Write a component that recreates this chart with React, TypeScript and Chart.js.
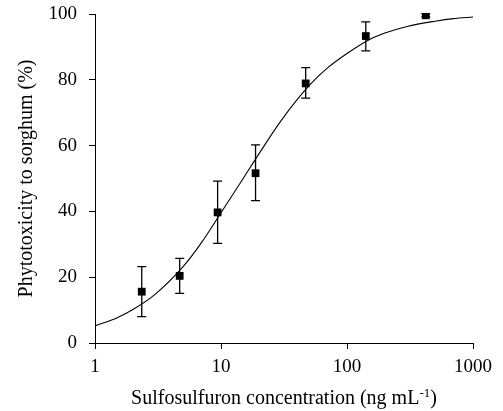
import { useEffect, useRef } from "react";
import { Chart, registerables } from "chart.js";

Chart.register(...registerables);

// Measured data (concentration in ng mL-1, phytotoxicity in %)
const concentrations = [2.35, 4.7, 9.4, 18.8, 47, 141, 422];
const phytotoxicity = [15.6, 20.4, 39.7, 51.6, 78.9, 93.3, 99.6];
const errorHigh = [23.2, 25.7, 49.2, 60.2, 83.7, 97.6, 100.1];
const errorLow = [8.0, 15.1, 30.3, 43.3, 74.4, 88.8, 99.1];

// Fitted dose-response curve
const curveX = [1, 1.5, 2, 3, 5, 7, 10, 15, 20, 30, 50, 70, 100, 150, 200, 300, 500, 700, 1000];
const curveY = [5.2, 7.7, 10.2, 14.8, 23.2, 30.5, 39.6, 50.0, 57.5, 67.6, 78.2, 83.6, 88.0, 92.2, 94.2, 96.2, 97.8, 98.6, 99.1];

const xTicks = [1, 10, 100, 1000];
const yTicks = [0, 20, 40, 60, 80, 100];

const xTitleMain = "Sulfosulfuron concentration (ng mL";
const xTitleSup = "-1";
const xTitleEnd = ")";
const yTitle = "Phytotoxicity to sorghum (%)";

const FONT = '"Liberation Serif", "Times New Roman", serif';

const errorBarPlugin = {
  id: "errorBars",
  afterDatasetsDraw(chart: any) {
    const { ctx, scales } = chart;
    const x = scales.x;
    const y = scales.y;
    ctx.save();
    ctx.strokeStyle = "#000";
    ctx.lineWidth = 1.3;
    concentrations.forEach((c, i) => {
      const px = x.getPixelForValue(c);
      const top = y.getPixelForValue(errorHigh[i]);
      const bot = y.getPixelForValue(errorLow[i]);
      ctx.beginPath();
      ctx.moveTo(px, top);
      ctx.lineTo(px, bot);
      ctx.moveTo(px - 4.5, top);
      ctx.lineTo(px + 4.5, top);
      ctx.moveTo(px - 4.5, bot);
      ctx.lineTo(px + 4.5, bot);
      ctx.stroke();
    });
    ctx.restore();
  },
};

const titlesPlugin = {
  id: "axisTitles",
  afterDraw(chart: any) {
    const { ctx, chartArea } = chart;
    ctx.save();
    ctx.fillStyle = "#000";
    const mainFont = `20px ${FONT}`;
    const supFont = `13px ${FONT}`;
    ctx.font = mainFont;
    const w1 = ctx.measureText(xTitleMain).width;
    const w3 = ctx.measureText(xTitleEnd).width;
    ctx.font = supFont;
    const w2 = ctx.measureText(xTitleSup).width;
    const total = w1 + w2 + w3;
    const cx = (chartArea.left + chartArea.right) / 2;
    let sx = cx - total / 2;
    const baseY = 404;
    ctx.textBaseline = "alphabetic";
    ctx.textAlign = "left";
    ctx.font = mainFont;
    ctx.fillText(xTitleMain, sx, baseY);
    sx += w1;
    ctx.font = supFont;
    ctx.fillText(xTitleSup, sx, baseY - 7);
    sx += w2;
    ctx.font = mainFont;
    ctx.fillText(xTitleEnd, sx, baseY);

    const cy = (chartArea.top + chartArea.bottom) / 2;
    ctx.translate(32, cy);
    ctx.rotate(-Math.PI / 2);
    ctx.textAlign = "center";
    ctx.textBaseline = "alphabetic";
    ctx.font = mainFont;
    ctx.fillText(yTitle, 0, 0);
    ctx.restore();
  },
};

export default function App() {
  const canvasRef = useRef<HTMLCanvasElement | null>(null);

  useEffect(() => {
    document.body.style.margin = "0";
    const canvas = canvasRef.current;
    if (!canvas) return;
    const chart = new Chart(canvas, {
      type: "scatter",
      data: {
        datasets: [
          {
            type: "scatter",
            label: "Observed",
            data: concentrations.map((c, i) => ({ x: c, y: phytotoxicity[i] })),
            pointStyle: "rect",
            pointRadius: 5.5,
            pointHoverRadius: 5.5,
            backgroundColor: "#000",
            borderColor: "#000",
            borderWidth: 0,
            order: 0,
          },
          {
            type: "line",
            label: "Fit",
            data: curveX.map((c, i) => ({ x: c, y: curveY[i] })),
            borderColor: "#000",
            borderWidth: 1.1,
            pointRadius: 0,
            fill: false,
            cubicInterpolationMode: "monotone",
            order: 1,
          } as any,
        ],
      },
      options: {
        responsive: false,
        animation: false,
        events: [],
        layout: { padding: { left: 0, right: 30, top: 14, bottom: 0 } },
        plugins: {
          legend: { display: false },
          tooltip: { enabled: false },
          title: { display: false },
        },
        scales: {
          x: {
            type: "logarithmic",
            position: "bottom",
            min: 1,
            max: 1000,
            afterBuildTicks: (scale: any) => {
              scale.ticks = xTicks.map((v) => ({ value: v }));
            },
            afterFit: (scale: any) => {
              scale.height = 68;
              scale.paddingLeft = 0;
              scale.paddingRight = 0;
            },
            ticks: {
              autoSkip: false,
              maxRotation: 0,
              padding: 7,
              color: "#000",
              font: { family: FONT, size: 19 },
              callback: (v: any) => String(v),
            },
            grid: {
              drawOnChartArea: false,
              drawTicks: true,
              tickLength: 6,
              color: "#000",
              lineWidth: 1,
            },
            border: { display: true, color: "#000", width: 1 },
            title: { display: false },
          },
          y: {
            type: "linear",
            min: 0,
            max: 100,
            afterBuildTicks: (scale: any) => {
              scale.ticks = yTicks.map((v) => ({ value: v }));
            },
            afterFit: (scale: any) => {
              scale.width = 95;
              scale.paddingTop = 0;
              scale.paddingBottom = 0;
            },
            ticks: {
              padding: 12,
              color: "#000",
              font: { family: FONT, size: 19 },
              callback: (v: any) => String(v),
            },
            grid: {
              drawOnChartArea: false,
              drawTicks: true,
              tickLength: 6,
              color: "#000",
              lineWidth: 1,
            },
            border: { display: true, color: "#000", width: 1 },
            title: { display: false },
          },
        },
      },
      plugins: [errorBarPlugin, titlesPlugin],
    });
    return () => chart.destroy();
  }, []);

  return (
    <div style={{ width: 503, height: 411, background: "#fff" }}>
      <canvas ref={canvasRef} width={503} height={411} style={{ display: "block" }} />
    </div>
  );
}
